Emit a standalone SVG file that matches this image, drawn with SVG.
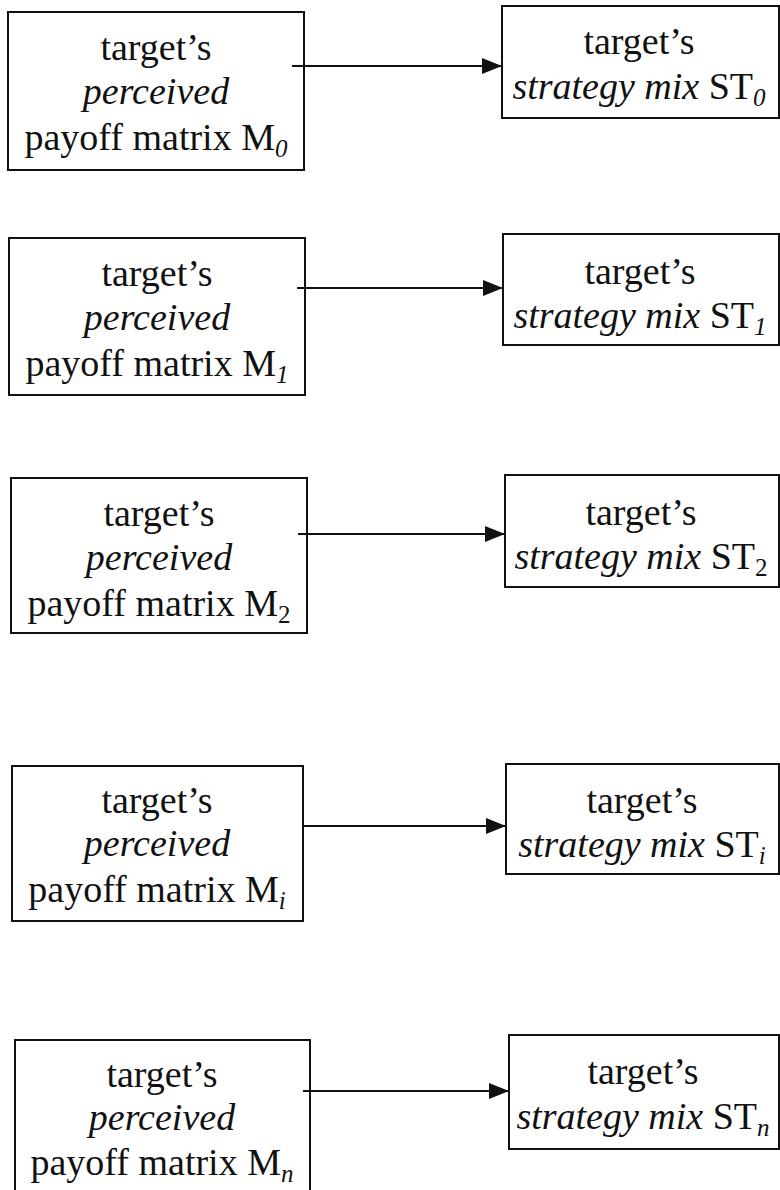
<svg xmlns="http://www.w3.org/2000/svg" width="780" height="1190" viewBox="0 0 780 1190">
<style>
.box{fill:#fff;stroke:#111;stroke-width:2}
.t{font-family:"Liberation Serif","Times New Roman",serif;font-size:38px;fill:#111;text-anchor:middle}
.i{font-style:italic}
.sub{font-size:25px}
.conn{stroke:#111;stroke-width:1.8;fill:none}
</style>
<defs>
<marker id="ah" markerUnits="userSpaceOnUse" markerWidth="22" markerHeight="18" refX="20" refY="8" orient="auto">
<path d="M0,0 L20,8 L0,16 Z" fill="#111"/>
</marker>
</defs>
<rect width="780" height="1190" fill="#fff"/>
<g id="m0">
<rect class="box" x="8" y="12" width="296" height="158"/>
<text class="t" x="156" y="60">target’s</text>
<text class="t i" x="156" y="104">perceived</text>
<text class="t" x="156" y="150">payoff matrix M<tspan class="sub i" dy="7">0</tspan></text>
</g>
<g id="st0">
<rect class="box" x="502" y="6" width="277" height="112"/>
<text class="t" x="639" y="54">target’s</text>
<text class="t" x="639" y="99"><tspan class="i">strategy mix</tspan> ST<tspan class="sub i" dy="7">0</tspan></text>
</g>
<g id="m1">
<rect class="box" x="9" y="238" width="296" height="157"/>
<text class="t" x="157" y="286">target’s</text>
<text class="t i" x="157" y="330">perceived</text>
<text class="t" x="157" y="376">payoff matrix M<tspan class="sub i" dy="7">1</tspan></text>
</g>
<g id="st1">
<rect class="box" x="503" y="234" width="276" height="111"/>
<text class="t" x="640" y="284">target’s</text>
<text class="t" x="640" y="328"><tspan class="i">strategy mix</tspan> ST<tspan class="sub i" dy="7">1</tspan></text>
</g>
<g id="m2">
<rect class="box" x="11" y="478" width="296" height="155"/>
<text class="t" x="159" y="526">target’s</text>
<text class="t i" x="159" y="570">perceived</text>
<text class="t" x="159" y="616">payoff matrix M<tspan class="sub" dy="7">2</tspan></text>
</g>
<g id="st2">
<rect class="box" x="505" y="475" width="274" height="112"/>
<text class="t" x="641" y="525">target’s</text>
<text class="t" x="641" y="569"><tspan class="i">strategy mix</tspan> ST<tspan class="sub" dy="7">2</tspan></text>
</g>
<g id="mi">
<rect class="box" x="12" y="766" width="291" height="155"/>
<text class="t" x="157" y="813">target’s</text>
<text class="t i" x="157" y="856">perceived</text>
<text class="t" x="157" y="902">payoff matrix M<tspan class="sub i" dy="7">i</tspan></text>
</g>
<g id="sti">
<rect class="box" x="506" y="764" width="273" height="110"/>
<text class="t" x="642" y="813">target’s</text>
<text class="t" x="642" y="857"><tspan class="i">strategy mix</tspan> ST<tspan class="sub i" dy="7">i</tspan></text>
</g>
<g id="mn">
<rect class="box" x="15" y="1040" width="295" height="160"/>
<text class="t" x="162" y="1087">target’s</text>
<text class="t i" x="162" y="1130">perceived</text>
<text class="t" x="162" y="1175">payoff matrix M<tspan class="sub i" dy="7">n</tspan></text>
</g>
<g id="stn">
<rect class="box" x="509" y="1035" width="270" height="114"/>
<text class="t" x="643" y="1084">target’s</text>
<text class="t" x="643" y="1129"><tspan class="i">strategy mix</tspan> ST<tspan class="sub i" dy="7">n</tspan></text>
</g>
<g id="connectors">
<line class="conn" x1="292" y1="66" x2="502" y2="66" marker-end="url(#ah)"/>
<line class="conn" x1="297" y1="288" x2="503" y2="288" marker-end="url(#ah)"/>
<line class="conn" x1="298" y1="534" x2="505" y2="534" marker-end="url(#ah)"/>
<line class="conn" x1="302" y1="826" x2="506" y2="826" marker-end="url(#ah)"/>
<line class="conn" x1="303" y1="1091" x2="509" y2="1091" marker-end="url(#ah)"/>
</g>
</svg>
